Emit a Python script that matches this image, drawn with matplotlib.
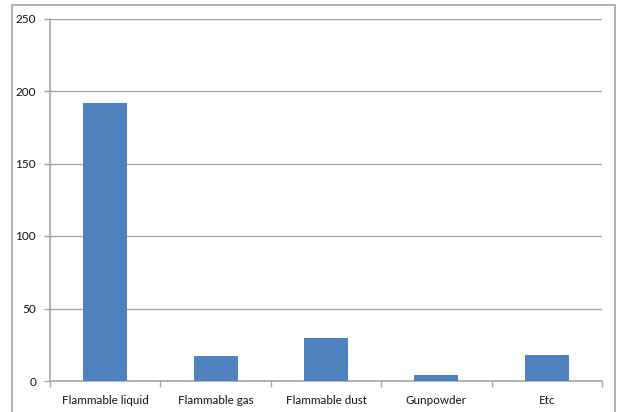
import matplotlib.pyplot as plt
from matplotlib.patches import Rectangle

categories = ["Flammable liquid", "Flammable gas", "Flammable dust", "Gunpowder", "Etc"]
counts = [192, 17, 30, 4, 18]
y_ticks = [0, 50, 100, 150, 200, 250]

plt.rcParams['font.family'] = ['Lato', 'DejaVu Sans']

W, H = 617, 412
fig = plt.figure(figsize=(W / 100, H / 100), dpi=100)

# outer chart frame
fig.patches.append(Rectangle((12 / W, -0.01), (615 - 12) / W, (H - 5) / H + 0.01,
                             transform=fig.transFigure, fill=False,
                             edgecolor='#a6a6a6', linewidth=1.2))

ax = fig.add_axes([50 / W, (H - 381) / H, (602 - 50) / W, (381 - 18.5) / H])

x = range(len(categories))
ax.bar(x, counts, width=0.4, color='#4f81bd', zorder=3)

ax.set_xlim(-0.5, len(categories) - 0.5)
ax.set_ylim(0, 250)
ax.set_yticks(y_ticks)
ax.set_yticklabels([str(v) for v in y_ticks], fontsize=8.5, color='#111111')
ax.yaxis.grid(True, color='#a6a6a6', linewidth=1.0, zorder=0)

# category labels sit between boundary ticks
ax.set_xticks([i + 0.5 for i in range(-1, len(categories))])
ax.set_xticklabels([])
ax.set_xticks(list(x), minor=True)
ax.set_xticklabels(categories, minor=True, fontsize=8.4, color='#111111')
ax.tick_params(axis='x', which='minor', length=0, pad=10)
ax.tick_params(axis='x', which='major', length=4, color='#a6a6a6', width=1)
ax.tick_params(axis='y', length=4, color='#a6a6a6', width=1, pad=6)

for side in ['top', 'right']:
    ax.spines[side].set_visible(False)
for side in ['left', 'bottom']:
    ax.spines[side].set_color('#a6a6a6')
    ax.spines[side].set_linewidth(1.2)

fig.savefig('out.png', dpi=100)
